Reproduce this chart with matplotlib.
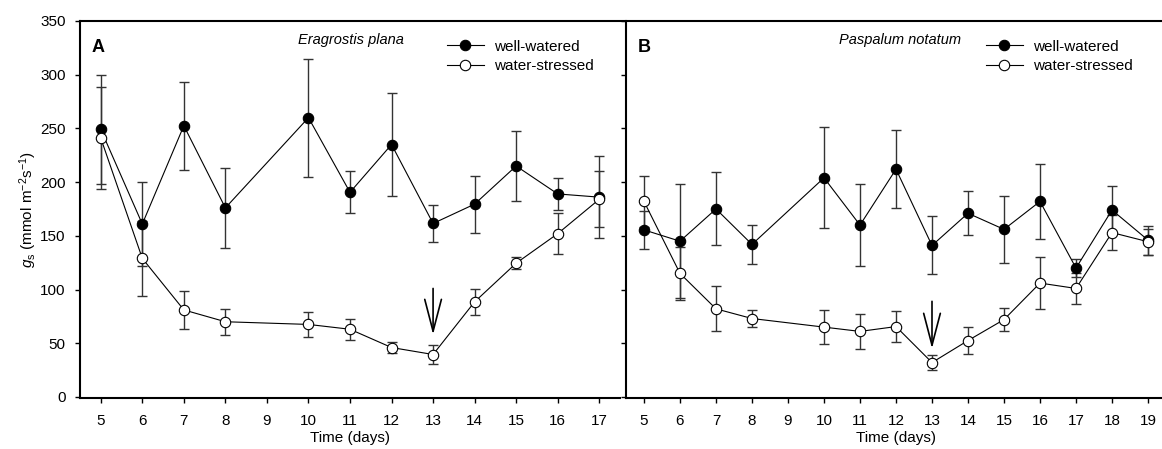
import matplotlib
matplotlib.use("Agg")
import matplotlib.pyplot as plt
from matplotlib.lines import Line2D

plt.rcParams['font.family'] = ['Liberation Sans', 'DejaVu Sans']
plt.rcParams['mathtext.fontset'] = 'custom'
plt.rcParams['mathtext.rm'] = 'Liberation Sans'
plt.rcParams['mathtext.it'] = 'Liberation Sans:italic'
plt.rcParams['mathtext.bf'] = 'Liberation Sans:bold'

# ---- data: stomatal conductance (mmol m-2 s-1), mean and error ----
days_a = [5, 6, 7, 8, 10, 11, 12, 13, 14, 15, 16, 17]
ww_a = [249, 161, 252.5, 176, 260, 190.5, 235, 161.5, 179.5, 215, 189, 186]
ww_a_err = [51, 39, 41, 37.5, 55, 19.5, 47.5, 17.5, 26.5, 33, 15, 38.5]
ws_a = [241, 129, 81, 70, 67.5, 63, 46, 39.5, 88.5, 124.5, 152, 184]
ws_a_err = [47.5, 35, 18, 12, 12, 10, 4.7, 8.5, 12, 5.6, 19, 26]

days_b = [5, 6, 7, 8, 10, 11, 12, 13, 14, 15, 16, 17, 18, 19]
ww_b = [155.5, 145, 175, 142, 204, 160, 212, 141, 171, 156, 182, 120, 174, 146]
ww_b_err = [17.6, 53, 34, 18.5, 47, 38.5, 36.5, 27, 20.5, 31.5, 35, 8, 22, 13.5]
ws_b = [182, 115, 82, 73, 65, 61, 65.5, 32, 52.5, 72, 106, 101, 153, 144.5]
ws_b_err = [24, 24.5, 21, 8, 16, 16, 14.5, 7, 12.5, 10.5, 24.5, 14.3, 16, 12]

ticks_a = list(range(5, 18))
ticks_b = list(range(5, 20))
yticks = [0, 50, 100, 150, 200, 250, 300, 350]

species = ["Eragrostis plana", "Paspalum notatum"]
panel_letters = ["A", "B"]
series_labels = ["well-watered", "water-stressed"]
rewater_day = 13
arrow_a = (101, 58)   # arrow top / tip (gs units)
arrow_b = (89, 45)

W, H = 1162, 449
fig = plt.figure(figsize=(W / 100, H / 100), dpi=100)

def fx(px):
    return px / W

def fy(py):
    return 1 - py / H

ax_bottom = fy(398)
ax_h = fy(21) - fy(398)
ax_a = fig.add_axes([fx(80), ax_bottom, fx(540), ax_h])
ax_b = fig.add_axes([fx(626), ax_bottom, fx(540), ax_h])

err_col = '#333333'

def draw_panel(ax, days, ww, ww_err, ws, ws_err, xticks, xlim, show_ylabels):
    ax.errorbar(days, ww, yerr=ww_err, fmt='none', ecolor=err_col,
                elinewidth=1.0, capsize=3.8, capthick=1.0, zorder=2)
    ax.errorbar(days, ws, yerr=ws_err, fmt='none', ecolor=err_col,
                elinewidth=1.0, capsize=3.8, capthick=1.0, zorder=2)
    ax.plot(days, ww, '-o', color='black', lw=0.8, ms=7.5,
            mfc='black', mec='black', mew=0.8, zorder=3, label=series_labels[0])
    ax.plot(days, ws, '-o', color='black', lw=0.8, ms=7.5,
            mfc='white', mec='black', mew=0.8, zorder=4, label=series_labels[1])
    ax.set_xlim(*xlim)
    ax.set_ylim(-1, 350)
    ax.set_xticks(xticks)
    ax.set_yticks(yticks)
    for s in ['top', 'right']:
        ax.spines[s].set_visible(False)
    for s in ['left', 'bottom']:
        ax.spines[s].set_linewidth(1.5)
    ax.tick_params(axis='both', direction='out', length=3.8, width=1.0,
                   labelsize=11)
    ax.tick_params(axis='x', pad=8)
    ax.tick_params(axis='y', pad=6.5)
    if not show_ylabels:
        ax.tick_params(axis='y', labelleft=False)
    ax.set_xlabel("Time (days)", fontsize=11, labelpad=2)

draw_panel(ax_a, days_a, ww_a, ww_a_err, ws_a, ws_a_err, ticks_a, (4.5, 17.5), True)
draw_panel(ax_b, days_b, ww_b, ww_b_err, ws_b, ws_b_err, ticks_b, (4.5, 19.5), False)

# continuous frame line across the top of both panels
fig.add_artist(Line2D([fx(80), 1.0], [fy(21), fy(21)], transform=fig.transFigure,
                      color='black', lw=1.5))

# re-watering arrows
for ax, (top, tip) in [(ax_a, arrow_a), (ax_b, arrow_b)]:
    ax.annotate("", xy=(rewater_day, tip), xytext=(rewater_day, top),
                arrowprops=dict(arrowstyle="->,head_length=2.3,head_width=0.6",
                                color='black', lw=1.2, shrinkA=0, shrinkB=0,
                                mutation_scale=10), zorder=5)

# panel letters and species names
fig.text(fx(92), fy(48), panel_letters[0], fontsize=13, fontweight='bold',
         ha='left', va='center')
fig.text(fx(638), fy(48), panel_letters[1], fontsize=13, fontweight='bold',
         ha='left', va='center')
fig.text(fx(298), fy(40), species[0], fontsize=10.5, style='italic',
         ha='left', va='center')
fig.text(fx(961), fy(40), species[1], fontsize=10.5, style='italic',
         ha='right', va='center')

# legends
for ax, x0 in [(ax_a, 447), (ax_b, 986)]:
    ax.legend(loc='center left', bbox_to_anchor=(fx(x0), fy(56.5)),
              bbox_transform=fig.transFigure, frameon=False, fontsize=11,
              handlelength=2.4, handletextpad=0.7, labelspacing=0.35,
              borderpad=0, borderaxespad=0)

# y-axis title
fig.text(fx(28), fy(210), r'$g_\mathrm{s}$ (mmol m$^{-2}$s$^{-1}$)', fontsize=11,
         rotation=90, ha='center', va='center')

fig.savefig("out.png", dpi=100)
